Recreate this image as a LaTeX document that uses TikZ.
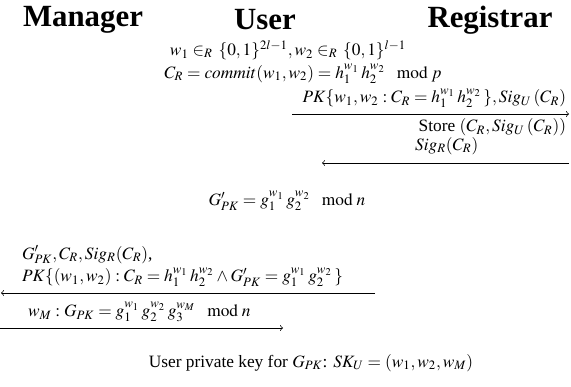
\documentclass[tikz,border=0pt]{standalone}
\usepackage{mathptmx}
\usepackage[no-math]{fontspec}
\setmainfont{Liberation Serif}
\usetikzlibrary{positioning}

\begin{document}
\begin{tikzpicture}[x=0.6pt, y=-0.6pt, >=to, line width=0.4pt, font=\fontsize{10.4}{12.5}\selectfont]
\tikzset{
	party/.style={font=\fontsize{18.5}{20}\selectfont\bfseries, inner sep=0pt},
	msg/.style={inner sep=1pt}
}
\useasboundingbox (0,0) rectangle (571,387);

% the three parties
\node[party] (mgr) at (83,20) {Manager};
\node[party] (usr) at (265,20) {User};
\node[party] (reg) at (490,20) {Registrar};

% user picks the secrets and commits
\node[msg] (pick) at (288,50) {$w_1 \in_R \,\{0,1\}^{2l-1}, w_2 \in_R \,\{0,1\}^{l-1}$};
\node[msg] (cmt) at (303,74) {$C_R = commit(w_1,w_2) = h_1^{w_1}\,h_2^{w_2} \mkern12mu\mathrm{mod}\,\,p$};

% user -> registrar
\coordinate (ur1) at (292,114);
\coordinate (ur2) at (569,114);
\draw[->] (ur1) -- (ur2);
\node[msg, anchor=south east] (pk1) at (568,110)
{$PK\{w_1,w_2 : C_R = h_1^{w_1}\,h_2^{w_2}\,\}, Sig_U\,(C_R)$};
\node[msg, anchor=north east] (store) at (568,117) {Store $(C_R,Sig_U\,(C_R))$};

% registrar -> user
\node[msg, anchor=west] (sigr) at (413,146) {$Sig_R(C_R)$};
\coordinate (ru1) at (569,163);
\coordinate (ru2) at (322,163);
\draw[->] (ru1) -- (ru2);

\node[msg] (gpk) at (287,201) {$G'_{PK} = g_1^{w_1}\,g_2^{w_2} \mkern12mu\mathrm{mod}\,\,n$};

% user -> manager
\node[msg, anchor=south west, align=left] (proof) at (20,289)
{$G'_{PK}, C_R, Sig_R(C_R)$,\\[1pt]
$PK\{(w_1,w_2) : C_R = h_1^{w_1}\,h_2^{w_2} \wedge G'_{PK} = g_1^{w_1}\,g_2^{w_2}\,\}$};
\coordinate (um1) at (375,293);
\coordinate (um2) at (1,293);
\draw[->] (um1) -- (um2);

% manager -> user
\node[msg, anchor=south west] (wm) at (26,324)
{$w_M : G_{PK} = g_1^{w_1}\,g_2^{w_2}\,g_3^{w_M} \mkern12mu\mathrm{mod}\,\,n$};
\coordinate (mu1) at (0,328);
\coordinate (mu2) at (283,328);
\draw[->] (mu1) -- (mu2);

\node[msg] (sku) at (311,363) {User private key for $G_{PK}$: $SK_U = (w_1,w_2,w_M)$};

\end{tikzpicture}
\end{document}
